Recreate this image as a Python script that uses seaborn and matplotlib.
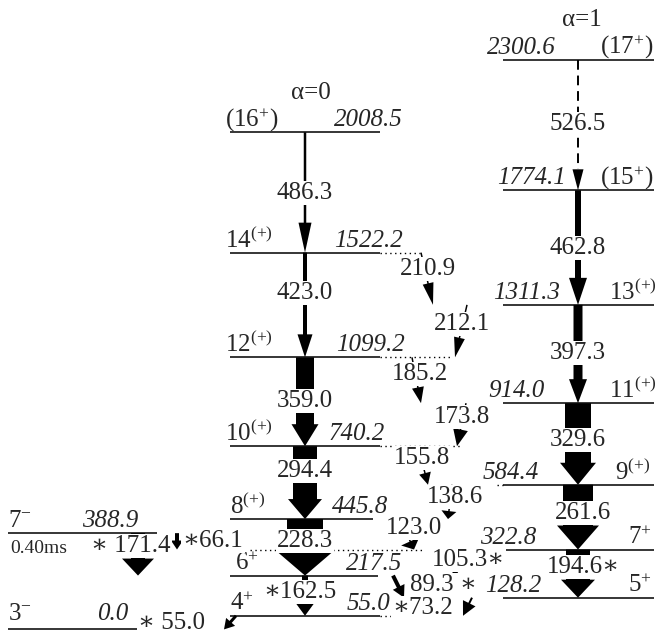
import numpy as np
import matplotlib
matplotlib.use('Agg')
import matplotlib.pyplot as plt
import seaborn as sns

# Level scheme: two signature bands (alpha=0, alpha=1) plus two side levels

# levels (keV) and spins
a0_energy = [2008.5, 1522.2, 1099.2, 740.2, 445.8, 217.5, 55.0]
a0_spin = [r'$(16^{+})$', r'$14^{(+)}$', r'$12^{(+)}$', r'$10^{(+)}$', r'$8^{(+)}$', r'$6^{+}$', r'$4^{+}$']
a1_energy = [2300.6, 1774.1, 1311.3, 914.0, 584.4, 322.8, 128.2]
a1_spin = [r'$(17^{+})$', r'$(15^{+})$', r'$13^{(+)}$', r'$11^{(+)}$', r'$9^{(+)}$', r'$7^{+}$', r'$5^{+}$']
side_energy = [388.9, 0.0]
side_spin = [r'$7^{-}$', r'$3^{-}$']
isomer_life = '0.40ms'

# in-band gammas (top level -> next level down)
a0_gamma = ['486.3', '423.0', '359.0', '294.4', '228.3', '\u2217162.5']
a1_gamma = ['526.5', '462.8', '397.3', '329.6', '261.6', '194.6\u2217']

# cross gammas
cross_gamma = ['210.9', '212.1', '185.2', '173.8', '155.8', '138.6', '123.0',
               '105.3\u2217', '89.3 \u2217', '\u221773.2', '\u221766.1', '\u2217 171.4', '\u2217 55.0']
cross_from = [1522.2, 1311.3, 1099.2, 914.0, 740.2, 584.4, 445.8, 322.8, 217.5, 128.2, 388.9, 388.9, 55.0]
cross_to = [1311.3, 1099.2, 914.0, 740.2, 584.4, 445.8, 322.8, 217.5, 128.2, 55.0, 322.8, 217.5, 0.0]

# ---- layout (pixels) ----
Y0, K = 629.4, 0.2475          # pixel row of 0 keV, pixels per keV


def e2p(E):
    return Y0 - K * E


def p2e(p):
    return (Y0 - p) / K


a0_x, a1_x = 305, 578
a0_line_end = [380, 380, 380, 380, 373, 378, 380]
a0_elab_right = [403, 403, 405, 385, 388, 402, 390]
a0_slab_left = [225, 225, 225, 225, 230, 235, 230]
a1_elab_left = [487, 497, 493, 488, 483, 480, 485]
a1_slab_right = [653, 653, 657, 657, 650, 652, 652]

# shaft width, head width, head length, label y (px)
a0_style = [(2.5, 13, 30, 193), (4, 15, 23, 293), (18, 27, 22, 401),
            (24, 34, 20, 471), (36, 56, 24, 541), (6, 19, 13, 592)]
a1_style = [(1.5, 11, 21, 124), (6, 18, 27, 248), (9, 18, 24, 353),
            (26, 36, 22, 440), (30, 42, 24, 513), (24, 34, 18, 567)]
a0_lab_x = [305, 305, 305, 305, 305, 300]
a1_lab_x = [578, 578, 578, 578, 583, 583]

# x0, x1, shaft, head width, head length, label x, label y
cross_style = [(421, 433, 1.5, 11, 22, 428, 269), (467, 455, 1.5, 11, 20, 462, 324),
               (412, 421, 1.5, 12, 16, 420, 374), (466, 457, 1.5, 15, 17, 462, 417),
               (418, 428, 1.5, 12, 12, 422, 458), (452, 448, 1.5, 15, 8, 455, 497),
               (400, 414, 1.5, 20, 9, 414, 528), (452, 456, 1.5, 10, 6, 468, 560),
               (393, 404, 4, 13, 12, 443, 585), (472, 463, 2, 14, 14, 423, 608),
               (177, 177, 4, 12, 9, 213, 541), (138, 138, 14, 32, 17, 131, 546),
               (236, 224, 3, 12, 10, 172, 623)]

dotted = [(1522.2, 380, 420), (1099.2, 380, 452), (740.2, 380, 460), (584.4, 497, 503),
          (322.8, 250, 422), (55.0, 380, 397)]

sns.set_theme(style='white')
plt.rcParams['font.family'] = ['Liberation Serif', 'DejaVu Serif']
plt.rcParams['mathtext.fontset'] = 'custom'
plt.rcParams['mathtext.rm'] = 'Liberation Serif'
plt.rcParams['mathtext.default'] = 'regular'

FS = 18

fig = plt.figure(figsize=(6.58, 6.35), dpi=100)
ax = fig.add_axes([0, 0, 1, 1])
ax.set_xlim(0, 658)
ax.set_ylim(p2e(635), p2e(0))
ax.axis('off')


def arrow(x0, E0, x1, E1, w, hw, hl):
    p0 = np.array([x0, e2p(E0)])
    p1 = np.array([x1, e2p(E1)])
    d = p1 - p0
    d = d / np.hypot(*d)
    n = np.array([-d[1], d[0]])
    b = p1 - d * hl
    pts = [p0 + n * w / 2, b + n * w / 2, b + n * hw / 2, p1,
           b - n * hw / 2, b - n * w / 2, p0 - n * w / 2]
    ax.fill([p[0] for p in pts], [p2e(p[1]) for p in pts], color='black', lw=0, zorder=2)


def glabel(x, py, s):
    ax.text(x, p2e(py), s, fontsize=FS, ha='center', va='center', zorder=3,
            bbox=dict(boxstyle='square,pad=0.05', fc='white', ec='none'))


lab_off = 6 / K   # baseline sits 6 px above the line

# alpha=0 band levels
for i, E in enumerate(a0_energy):
    ax.hlines(E, 230, a0_line_end[i], color='black', lw=1.1, zorder=1)
    ax.text(a0_elab_right[i], E + lab_off, f'{E:.1f}', fontsize=FS, style='italic',
            ha='right', va='baseline')
    ax.text(a0_slab_left[i], E + lab_off, a0_spin[i], fontsize=FS, ha='left', va='baseline')

# alpha=1 band levels
for i, E in enumerate(a1_energy):
    ax.hlines(E, 503, 654, color='black', lw=1.1, zorder=1)
    ax.text(a1_elab_left[i], E + lab_off, f'{E:.1f}', fontsize=FS, style='italic',
            ha='left', va='baseline')
    ax.text(a1_slab_right[i], E + lab_off, a1_spin[i], fontsize=FS, ha='right', va='baseline')

# side levels
side_ends = [157, 150]
side_elab = [138, 128]
for i, E in enumerate(side_energy):
    ax.hlines(E, 8, side_ends[i], color='black', lw=1.1, zorder=1)
    ax.text(side_elab[i], E + lab_off * (1 if i == 0 else 1.5), f'{E:.1f}', fontsize=FS,
            style='italic', ha='right', va='baseline')
    ax.text(8, E + lab_off * (1 if i == 0 else 1.5), side_spin[i], fontsize=FS,
            ha='left', va='baseline')
ax.text(10, side_energy[0] - 20 / K, isomer_life, fontsize=14, ha='left', va='baseline')

# dotted extensions
for E, xa, xb in dotted:
    ax.hlines(E, xa, xb, color='black', lw=1.0, linestyles=(0, (1, 2.5)), zorder=1)

# band headings
ax.text(311, p2e(93), '\u03b1=0', fontsize=FS, ha='center', va='center')
ax.text(582, p2e(20), '\u03b1=1', fontsize=FS, ha='center', va='center')

# alpha=0 cascade
for i, g in enumerate(a0_gamma):
    w, hw, hl, ly = a0_style[i]
    arrow(a0_x, a0_energy[i], a0_x, a0_energy[i + 1], w, hw, hl)
    glabel(a0_lab_x[i], ly, g)

# alpha=1 cascade (top one is tentative -> dashed)
for i, g in enumerate(a1_gamma):
    w, hw, hl, ly = a1_style[i]
    if i == 0:
        ax.plot([a1_x, a1_x], [a1_energy[0], p2e(e2p(a1_energy[1]) - hl)], color='black',
                lw=1.4, ls=(0, (5, 3)), zorder=2)
        arrow(a1_x, a1_energy[0], a1_x, a1_energy[1], 0, hw, hl)
    else:
        arrow(a1_x, a1_energy[i], a1_x, a1_energy[i + 1], w, hw, hl)
    glabel(a1_lab_x[i], ly, g)

# cross transitions
for i, g in enumerate(cross_gamma):
    x0, x1, w, hw, hl, lx, ly = cross_style[i]
    arrow(x0, cross_from[i], x1, cross_to[i], w, hw, hl)
    glabel(lx, ly, g)

fig.savefig('out.png', dpi=100, facecolor='white')
